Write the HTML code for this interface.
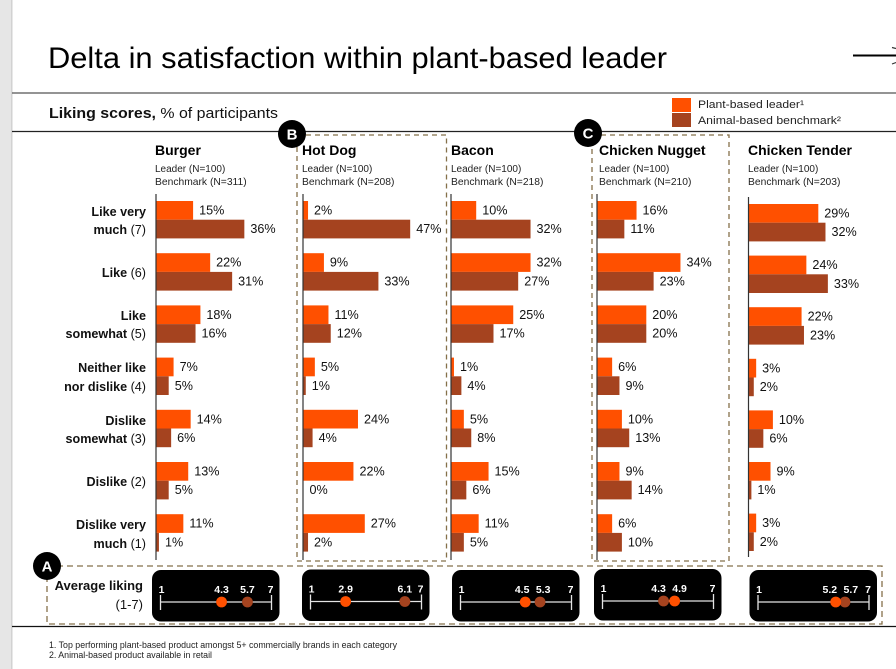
<!DOCTYPE html>
<html lang="en">
<head>
<meta charset="utf-8">
<title>Delta in satisfaction within plant-based leader</title>
<style>
html,body{margin:0;padding:0;background:#fff;width:896px;height:669px;overflow:hidden}
svg{display:block;font-family:"Liberation Sans",sans-serif}
</style>
</head>
<body>
<svg id="chart" xmlns="http://www.w3.org/2000/svg" width="896" height="669" viewBox="0 0 896 669">
  <rect x="0" y="0" width="896" height="669" fill="#ffffff"/>
  <rect x="0" y="0" width="11" height="669" fill="#e6e6e6"/>
  <rect x="11" y="0" width="1.5" height="669" fill="#d2d2d2"/>

  <text x="48" y="68" font-size="30" fill="#000" textLength="619" lengthAdjust="spacingAndGlyphs">Delta in satisfaction within plant-based leader</text>
  <g>
    <line x1="853" y1="55.5" x2="896" y2="55.5" stroke="#000" stroke-width="2"/>
    <line x1="892" y1="47.5" x2="896" y2="48.5" stroke="#333" stroke-width="1.2"/>
    <line x1="892" y1="64" x2="896" y2="62.5" stroke="#333" stroke-width="1.2"/>
  </g>

  <line x1="12" y1="93" x2="896" y2="93" stroke="#555" stroke-width="1.3"/>
  <line x1="12" y1="131.5" x2="896" y2="131.5" stroke="#222" stroke-width="1.2"/>
  <line x1="12" y1="626.5" x2="896" y2="626.5" stroke="#111" stroke-width="1.2"/>

  <text x="49" y="118" font-size="15" fill="#111" textLength="229" lengthAdjust="spacingAndGlyphs"><tspan font-weight="bold">Liking scores,</tspan> % of participants</text>

  <g>
    <rect x="672" y="98" width="19" height="14" fill="#ff5000"/>
    <text x="698" y="108" font-size="11" fill="#222" textLength="106" lengthAdjust="spacingAndGlyphs">Plant-based leader¹</text>
    <rect x="672" y="113" width="19" height="14" fill="#a5431f"/>
    <text x="698" y="124" font-size="11" fill="#222" textLength="143" lengthAdjust="spacingAndGlyphs">Animal-based benchmark²</text>
  </g>

  <rect x="297" y="135" width="149.5" height="426" fill="none" stroke="#85704a" stroke-width="1.3" stroke-dasharray="5 4"/>
  <rect x="592" y="135" width="137" height="426" fill="none" stroke="#85704a" stroke-width="1.3" stroke-dasharray="5 4"/>
  <rect x="47" y="566" width="835" height="58" fill="none" stroke="#85704a" stroke-width="1.3" stroke-dasharray="6 4"/>

  <g><circle cx="292" cy="134" r="14" fill="#000"/><text x="292" y="139.5" font-size="15" font-weight="bold" fill="#fff" text-anchor="middle">B</text></g>
  <g><circle cx="588" cy="133" r="14" fill="#000"/><text x="588" y="138.5" font-size="15" font-weight="bold" fill="#fff" text-anchor="middle">C</text></g>
  <g><circle cx="47" cy="566" r="14" fill="#000"/><text x="47" y="571.5" font-size="15" font-weight="bold" fill="#fff" text-anchor="middle">A</text></g>

  <g font-size="12.6" fill="#111" text-anchor="end" font-weight="bold">
    <text x="146" y="216">Like very</text>
    <text x="146" y="234">much <tspan font-weight="normal">(7)</tspan></text>
    <text x="146" y="277">Like <tspan font-weight="normal">(6)</tspan></text>
    <text x="146" y="320">Like</text>
    <text x="146" y="338">somewhat <tspan font-weight="normal">(5)</tspan></text>
    <text x="146" y="372">Neither like</text>
    <text x="146" y="391">nor dislike <tspan font-weight="normal">(4)</tspan></text>
    <text x="146" y="425">Dislike</text>
    <text x="146" y="443">somewhat <tspan font-weight="normal">(3)</tspan></text>
    <text x="146" y="486">Dislike <tspan font-weight="normal">(2)</tspan></text>
    <text x="146" y="529">Dislike very</text>
    <text x="146" y="548">much <tspan font-weight="normal">(1)</tspan></text>
  </g>

  <g text-anchor="end" fill="#111" font-size="13">
    <text x="143" y="590" font-weight="bold">Average liking</text>
    <text x="143" y="609">(1-7)</text>
  </g>

  <g font-size="9" fill="#222">
    <text x="49" y="648" textLength="348" lengthAdjust="spacingAndGlyphs">1. Top performing plant-based product amongst 5+ commercially brands in each category</text>
    <text x="49" y="658" textLength="163" lengthAdjust="spacingAndGlyphs">2. Animal-based product available in retail</text>
  </g>
  <g id="panels"></g>
</svg>
<script>
// Chart data
const categories = ['Burger', 'Hot Dog', 'Bacon', 'Chicken Nugget', 'Chicken Tender'];
const leaderSampleSizes = [100, 100, 100, 100, 100];
const benchmarkSampleSizes = [311, 208, 218, 210, 203];
const burgerLeader = [15, 22, 18, 7, 14, 13, 11];
const burgerBenchmark = [36, 31, 16, 5, 6, 5, 1];
const hotDogLeader = [2, 9, 11, 5, 24, 22, 27];
const hotDogBenchmark = [47, 33, 12, 1, 4, 0, 2];
const baconLeader = [10, 32, 25, 1, 5, 15, 11];
const baconBenchmark = [32, 27, 17, 4, 8, 6, 5];
const nuggetLeader = [16, 34, 20, 6, 10, 9, 6];
const nuggetBenchmark = [11, 23, 20, 9, 13, 14, 10];
const tenderLeader = [29, 24, 22, 3, 10, 9, 3];
const tenderBenchmark = [32, 33, 23, 2, 6, 1, 2];
const averageLeader = [4.3, 2.9, 4.5, 4.9, 5.2];
const averageBenchmark = [5.7, 6.1, 5.3, 4.3, 5.7];
const scaleTicks = [1, 7];

const leaderSeries = [burgerLeader, hotDogLeader, baconLeader, nuggetLeader, tenderLeader];
const benchmarkSeries = [burgerBenchmark, hotDogBenchmark, baconBenchmark, nuggetBenchmark, tenderBenchmark];

// Layout of each panel (geometry only)
const layout = [
  {axis: 156.5, ppu: 2.44, top: 201, pitch: 52.2, head: 155, axisTop: 194, axisBottom: 560, box: 152, boxY: 570},
  {axis: 303.5, ppu: 2.27, top: 201, pitch: 52.2, head: 302, axisTop: 194, axisBottom: 560, box: 302, boxY: 569.5},
  {axis: 451.5, ppu: 2.47, top: 201, pitch: 52.2, head: 451, axisTop: 194, axisBottom: 560, box: 452, boxY: 570},
  {axis: 597.5, ppu: 2.44, top: 201, pitch: 52.2, head: 599, axisTop: 194, axisBottom: 560, box: 594, boxY: 569},
  {axis: 749, ppu: 2.39, top: 204, pitch: 51.6, head: 748, axisTop: 197, axisBottom: 557, box: 749.5, boxY: 570}
];

const NS = 'http://www.w3.org/2000/svg';
const root = document.getElementById('panels');

function make(tag, parent, attrs, text) {
  const el = document.createElementNS(NS, tag);
  for (const k in attrs) el.setAttribute(k, attrs[k]);
  if (text !== undefined) el.textContent = text;
  parent.appendChild(el);
  return el;
}
function barX(panel, value) { return layout[panel].axis + value * layout[panel].ppu; }
function rowY(panel, row) { return layout[panel].top + row * layout[panel].pitch; }
function scaleX(panel, score) {
  const lo = layout[panel].box + 8.5, hi = lo + 111;
  return lo + (score - scaleTicks[0]) / (scaleTicks[1] - scaleTicks[0]) * (hi - lo);
}

const barH = 18.7;

categories.forEach(function (name, p) {
  const L = layout[p];
  const g = make('g', root, {});
  
  

  const title = make('text', g, {x: L.head, y: 155, 'font-size': 14, 'font-weight': 'bold', fill: '#000'}, name);
  
  

  const n1 = make('text', g, {x: L.head, y: 172, 'font-size': 10, fill: '#222'}, 'Leader (N=' + leaderSampleSizes[p] + ')');
  
  

  const n2 = make('text', g, {x: L.head, y: 185, 'font-size': 10.3, fill: '#222'}, 'Benchmark (N=' + benchmarkSampleSizes[p] + ')');
  
  

  leaderSeries[p].forEach(function (v, r) {
    const y = rowY(p, r);
    const bv = benchmarkSeries[p][r];

    const b1 = make('rect', g, {x: L.axis, y: y, width: barX(p, v) - L.axis, height: barH, fill: '#ff5000'});
    
    

    const b2 = make('rect', g, {x: L.axis, y: y + barH, width: barX(p, bv) - L.axis, height: barH, fill: '#a5431f'});
    
    

    const t1 = make('text', g, {x: barX(p, v) + 6, y: y + 13.5, 'font-size': 12.6, fill: '#111'}, v + '%');
    
    

    const t2 = make('text', g, {x: barX(p, bv) + 6, y: y + barH + 13.5, 'font-size': 12.6, fill: '#111'}, bv + '%');
    
    
  });

  const axis = make('line', g, {x1: L.axis - 0.5, x2: L.axis - 0.5, y1: L.axisTop, y2: L.axisBottom, stroke: '#333', 'stroke-width': 1.2});
  
  

  // Average-liking scale
  const s = make('g', g, {});
  
  

  const card = make('rect', s, {x: L.box, y: L.boxY, width: 127.5, height: 51.5, rx: 9, fill: '#000'});
  
  

  const ly = L.boxY + 32;
  const x0 = scaleX(p, scaleTicks[0]), x1 = scaleX(p, scaleTicks[1]);
  const track = make('line', s, {x1: x0, x2: x1, y1: ly, y2: ly, stroke: '#e4e4e4', 'stroke-width': 1.3});
  
  

  scaleTicks.forEach(function (tv) {
    const tx = scaleX(p, tv);
    const tick = make('line', s, {x1: tx, x2: tx, y1: ly - 7, y2: ly + 8, stroke: '#e4e4e4', 'stroke-width': 1.3});
    
    

    const tl = make('text', s, {x: tx + (tv === scaleTicks[1] ? -1 : 1), y: L.boxY + 23, 'font-size': 10.5, 'font-weight': 'bold', fill: '#fff', 'text-anchor': 'middle'}, String(tv));
    
    
  });

  const ax = scaleX(p, averageLeader[p]), bx = scaleX(p, averageBenchmark[p]);
  const gap = 21;
  let alx = ax, blx = bx;
  if (Math.abs(ax - bx) < gap) {
    const mid = (ax + bx) / 2, dir = ax < bx ? 1 : -1;
    alx = mid - dir * gap / 2;
    blx = mid + dir * gap / 2;
  }

  const d2 = make('circle', s, {cx: bx, cy: ly, r: 5.4, fill: '#a5431f'});
  
  

  const d1 = make('circle', s, {cx: ax, cy: ly, r: 5.4, fill: '#ff5000'});
  
  

  const al = make('text', s, {x: alx, y: L.boxY + 23, 'font-size': 10.5, 'font-weight': 'bold', fill: '#fff', 'text-anchor': 'middle'}, averageLeader[p].toFixed(1));
  
  

  const bl = make('text', s, {x: blx, y: L.boxY + 23, 'font-size': 10.5, 'font-weight': 'bold', fill: '#fff', 'text-anchor': 'middle'}, averageBenchmark[p].toFixed(1));
  
  
});
</script>
</body>
</html>
